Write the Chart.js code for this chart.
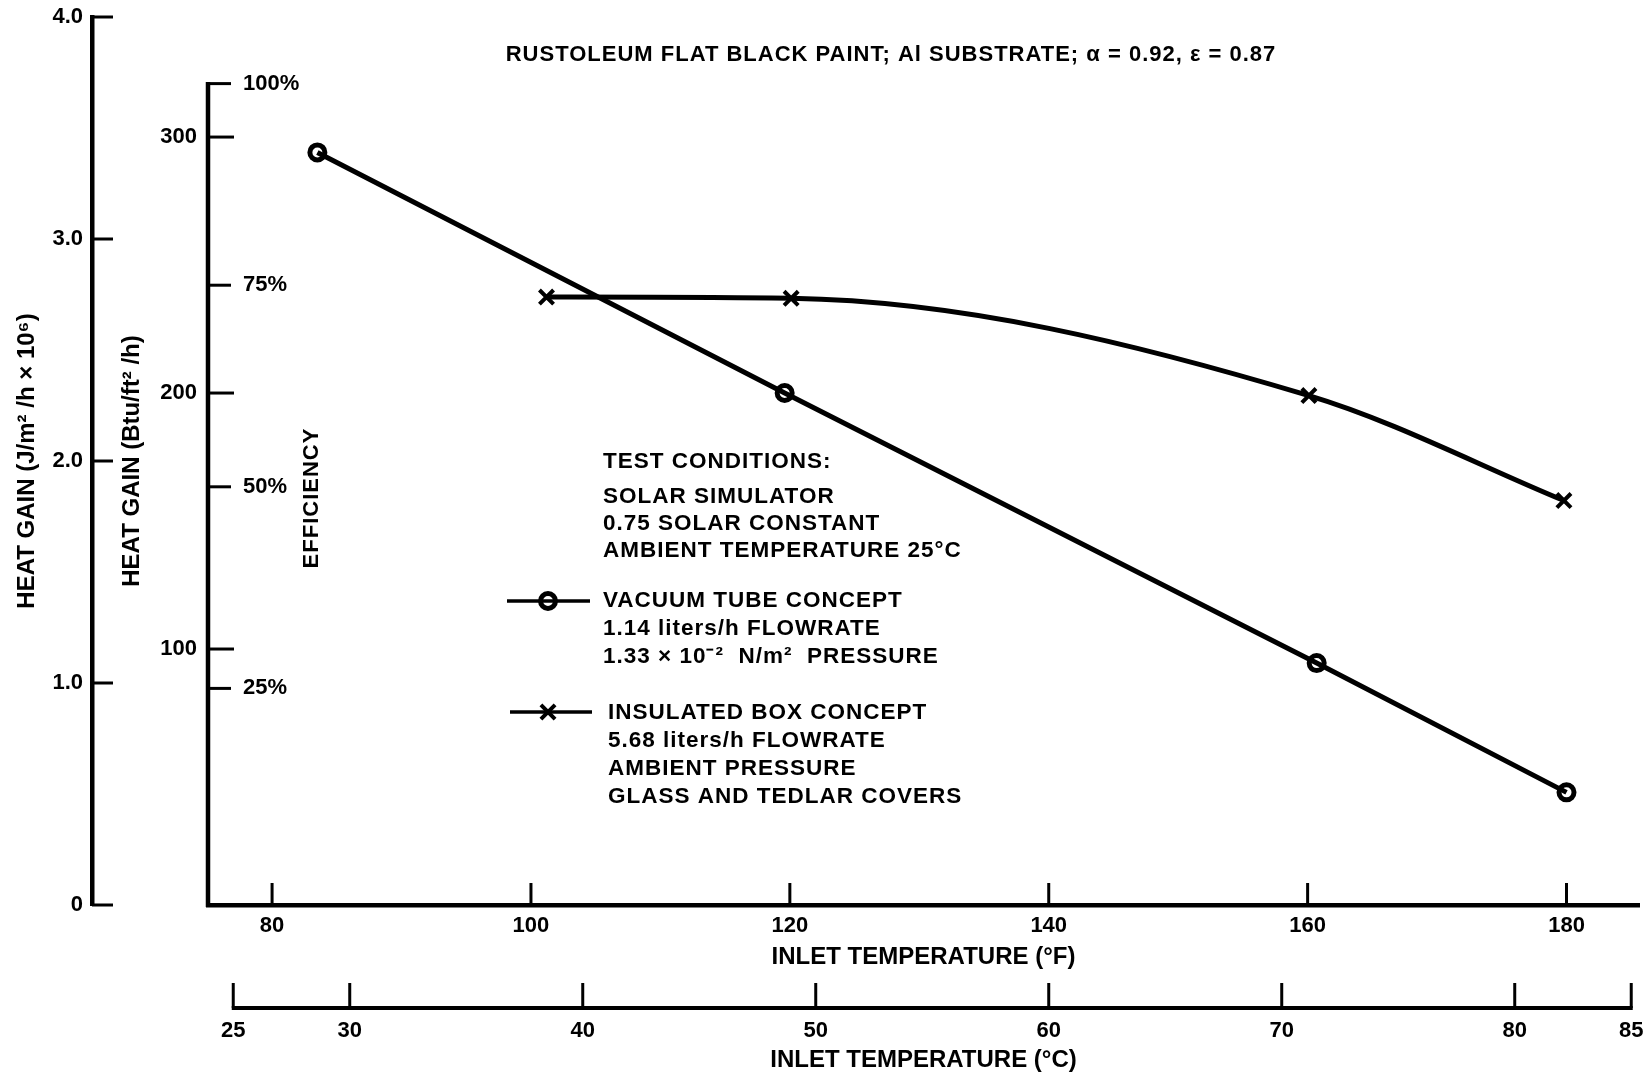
<!DOCTYPE html>
<html>
<head>
<meta charset="utf-8">
<title>Heat gain versus inlet temperature</title>
<script src="https://cdn.jsdelivr.net/npm/chart.js@4.4.1/dist/chart.umd.min.js"></script>
<style>
  html, body { margin: 0; padding: 0; background: #ffffff; }
  #wrap { position: relative; width: 1647px; height: 1072px; }
  canvas { display: block; }
</style>
</head>
<body>
<div id="wrap"><canvas id="chart" width="1647" height="1072"></canvas></div>
<script>
// Measured heat gain (Btu/ft²/h) against inlet temperature (°F)
const vacuumTubeTempF   = [83.5, 119.6, 160.7, 180.0];
const vacuumTubeGain    = [294, 200, 94.5, 44];
const insulatedBoxTempF = [101.2, 120.1, 160.1, 179.8];
const insulatedBoxGain  = [237.5, 237, 199, 158];

// Tick values of each axis
const tempFTicks      = [80, 100, 120, 140, 160, 180];
const tempCTicks      = [25, 30, 40, 50, 60, 70, 80, 85];
const gainSITicks     = [0, 1, 2, 3, 4];
const gainBtuTicks    = [100, 200, 300];
const efficiencyTicks = [25, 50, 75, 100];

// Labels
const chartTitle        = 'RUSTOLEUM FLAT BLACK PAINT; Al SUBSTRATE; α = 0.92, ε = 0.87';
const conditionLines    = ['TEST CONDITIONS:', 'SOLAR SIMULATOR', '0.75 SOLAR CONSTANT', 'AMBIENT TEMPERATURE 25°C'];
const vacuumTubeLines   = ['VACUUM TUBE CONCEPT', '1.14 liters/h FLOWRATE', '1.33 × 10⁻²  N/m²  PRESSURE'];
const insulatedBoxLines = ['INSULATED BOX CONCEPT', '5.68 liters/h FLOWRATE', 'AMBIENT PRESSURE', 'GLASS AND TEDLAR COVERS'];

const FONT = "'Liberation Sans', Arial, Helvetica, sans-serif";
const INK = '#000000';
const tickFont  = { family: FONT, size: 22, weight: 'bold' };
const titleFont = { family: FONT, size: 24, weight: 'bold' };

// Axis ranges
const F_MIN = 75.05, F_MAX = 185.6;
const toCelsius = f => (f - 32) / 1.8;

const vacuumStyle = { pointStyle: 'circle', radius: 7.5, borderWidth: 5 };
const boxStyle    = { pointStyle: 'crossRot', radius: 10, borderWidth: 4 };

function stroke(ctx, x1, y1, x2, y2, w) {
  ctx.beginPath();
  ctx.lineWidth = w;
  ctx.moveTo(x1, y1);
  ctx.lineTo(x2, y2);
  ctx.stroke();
}

function marker(ctx, style, x, y) {
  const helpers = Chart.helpers;
  ctx.save();
  ctx.strokeStyle = INK;
  ctx.fillStyle = 'rgba(0,0,0,0)';
  ctx.lineWidth = style.borderWidth;
  if (helpers && helpers.drawPoint) {
    helpers.drawPoint(ctx, { pointStyle: style.pointStyle, radius: style.radius, rotation: 0, borderWidth: style.borderWidth }, x, y);
  } else if (style.pointStyle === 'circle') {
    ctx.beginPath(); ctx.arc(x, y, style.radius, 0, Math.PI * 2); ctx.stroke();
  } else {
    const d = style.radius * Math.SQRT1_2;
    stroke(ctx, x - d, y - d, x + d, y + d, style.borderWidth);
    stroke(ctx, x - d, y + d, x + d, y - d, style.borderWidth);
  }
  ctx.restore();
}

// Fixed axis thickness; no extra layout padding around the tick labels
const fixWidth  = w => s => { s.width = w; s.paddingTop = 0; s.paddingBottom = 0; };
const fixHeight = h => s => { s.height = h; s.paddingLeft = 0; s.paddingRight = 0; };

// Inward tick marks, the shared Btu/efficiency spine and the Celsius scale line
const axisMarks = {
  id: 'axisMarks',
  afterDraw(chart) {
    const { ctx, chartArea, scales } = chart;
    const { yJ, yB, yE, xF, xC } = scales;
    ctx.save();
    ctx.strokeStyle = INK;
    ctx.lineCap = 'butt';

    gainSITicks.forEach(v => {
      const y = yJ.getPixelForValue(v);
      stroke(ctx, yJ.right, y, yJ.right + 21, y, 3);
    });

    const left = chartArea.left;
    stroke(ctx, left, yE.getPixelForValue(100) - 1.5, left, chartArea.bottom + 2, 4.5);
    gainBtuTicks.forEach(v => {
      const y = yB.getPixelForValue(v);
      stroke(ctx, left, y, left + 26, y, 3);
    });
    efficiencyTicks.forEach(v => {
      const y = yE.getPixelForValue(v);
      stroke(ctx, left, y, left + 23, y, 3);
    });

    tempFTicks.forEach(v => {
      const x = xF.getPixelForValue(v);
      stroke(ctx, x, xF.top, x, xF.top - 22, 3);
    });

    const cy = xC.top;
    stroke(ctx, xC.getPixelForValue(tempCTicks[0]) - 1.5, cy,
                xC.getPixelForValue(tempCTicks[tempCTicks.length - 1]) + 1.5, cy, 4);
    tempCTicks.forEach(v => {
      const x = xC.getPixelForValue(v);
      stroke(ctx, x, cy, x, cy - 25, 3);
    });
    ctx.restore();
  }
};

// Title, efficiency label and the test-condition key
const annotations = {
  id: 'annotations',
  afterDraw(chart) {
    const ctx = chart.ctx;
    ctx.save();
    ctx.fillStyle = INK;
    ctx.strokeStyle = INK;
    ctx.letterSpacing = '1px';
    ctx.textBaseline = 'middle';

    ctx.font = `bold 22px ${FONT}`;
    ctx.textAlign = 'center';
    ctx.fillText(chartTitle, 891, 55);

    ctx.save();
    ctx.translate(312, 498);
    ctx.rotate(-Math.PI / 2);
    ctx.fillText('EFFICIENCY', 0, 0);
    ctx.restore();

    ctx.font = `bold 22.5px ${FONT}`;
    ctx.textAlign = 'left';
    const condY = [462, 497, 524, 551];
    conditionLines.forEach((t, i) => ctx.fillText(t, 603, condY[i]));

    const vacY = [601, 629, 657];
    vacuumTubeLines.forEach((t, i) => ctx.fillText(t, 603, vacY[i]));

    const boxY = [713, 741, 769, 797];
    insulatedBoxLines.forEach((t, i) => ctx.fillText(t, 608, boxY[i]));

    // key samples
    stroke(ctx, 507, 601, 590, 601, 3.5);
    marker(ctx, vacuumStyle, 548, 601);
    stroke(ctx, 510, 712, 592, 712, 3.5);
    marker(ctx, boxStyle, 548, 712);
    ctx.restore();
  }
};

const canvas = document.getElementById('chart');
canvas.getContext('2d').letterSpacing = '1px';

new Chart(canvas, {
  type: 'line',
  data: {
    datasets: [
      {
        label: 'VACUUM TUBE CONCEPT',
        data: vacuumTubeTempF.map((x, i) => ({ x, y: vacuumTubeGain[i] })),
        xAxisID: 'xF', yAxisID: 'yB',
        borderColor: INK, borderWidth: 5, tension: 0, fill: false,
        pointStyle: vacuumStyle.pointStyle, pointRadius: vacuumStyle.radius,
        pointBorderWidth: vacuumStyle.borderWidth,
        pointBorderColor: INK, pointBackgroundColor: 'rgba(0,0,0,0)'
      },
      {
        label: 'INSULATED BOX CONCEPT',
        data: insulatedBoxTempF.map((x, i) => ({ x, y: insulatedBoxGain[i] })),
        xAxisID: 'xF', yAxisID: 'yB',
        borderColor: INK, borderWidth: 5, fill: false,
        cubicInterpolationMode: 'monotone',
        pointStyle: boxStyle.pointStyle, pointRadius: boxStyle.radius,
        pointBorderWidth: boxStyle.borderWidth,
        pointBorderColor: INK, pointBackgroundColor: INK
      }
    ]
  },
  options: {
    responsive: false,
    animation: false,
    devicePixelRatio: 1,
    events: [],
    layout: { autoPadding: false, padding: { top: 17, right: 8, bottom: 0, left: 0 } },
    plugins: {
      legend: { display: false },
      title: { display: false },
      tooltip: { enabled: false }
    },
    scales: {
      xF: {
        type: 'linear', position: 'bottom', weight: 0,
        min: F_MIN, max: F_MAX,
        afterBuildTicks: s => { s.ticks = tempFTicks.map(v => ({ value: v })); },
        afterFit: fixHeight(103),
        grid: { display: false, drawTicks: false },
        border: { display: true, width: 4.5, color: INK },
        ticks: { color: INK, font: tickFont, padding: 8, maxRotation: 0, autoSkip: false },
        title: { display: true, text: 'INLET TEMPERATURE (°F)', color: INK, font: titleFont, padding: { top: 0, bottom: 36 } }
      },
      xC: {
        type: 'linear', position: 'bottom', weight: 1,
        min: toCelsius(F_MIN), max: toCelsius(F_MAX),
        afterBuildTicks: s => { s.ticks = tempCTicks.map(v => ({ value: v })); },
        afterFit: fixHeight(64),
        grid: { display: false, drawTicks: false },
        border: { display: false },
        ticks: { color: INK, font: tickFont, padding: 10, maxRotation: 0, autoSkip: false },
        title: { display: true, text: 'INLET TEMPERATURE (°C)', color: INK, font: titleFont, padding: { top: 0, bottom: -3 } }
      },
      yJ: {
        type: 'linear', position: 'left', weight: 2,
        min: 0, max: 4,
        afterBuildTicks: s => { s.ticks = gainSITicks.map(v => ({ value: v })); },
        afterFit: fixWidth(92),
        grid: { display: false, drawTicks: false },
        border: { display: true, width: 4.5, color: INK },
        ticks: { color: INK, font: tickFont, padding: 9, callback: v => (v === 0 ? '0' : v.toFixed(1)) },
        title: { display: true, text: 'HEAT GAIN (J/m² /h × 10⁶)', color: INK, font: titleFont, padding: { top: 13, bottom: 0 } }
      },
      yB: {
        type: 'linear', position: 'left', weight: 1,
        min: 0, max: 346.9,
        afterBuildTicks: s => { s.ticks = gainBtuTicks.map(v => ({ value: v })); },
        afterFit: fixWidth(116),
        grid: { display: false, drawTicks: false },
        border: { display: false },
        ticks: { color: INK, font: tickFont, padding: 11 },
        title: { display: true, text: 'HEAT GAIN (Btu/ft² /h)', color: INK, font: titleFont, padding: { top: 26, bottom: 0 } }
      },
      yE: {
        type: 'linear', position: 'left', weight: 0,
        min: -1.86, max: 108.26,
        afterBuildTicks: s => { s.ticks = efficiencyTicks.map(v => ({ value: v })); },
        afterFit: fixWidth(0),
        grid: { display: false, drawTicks: false },
        border: { display: false },
        ticks: { color: INK, font: tickFont, padding: 35, mirror: true, callback: v => v + '%' },
        title: { display: false }
      }
    }
  },
  plugins: [axisMarks, annotations]
});
</script>
</body>
</html>
